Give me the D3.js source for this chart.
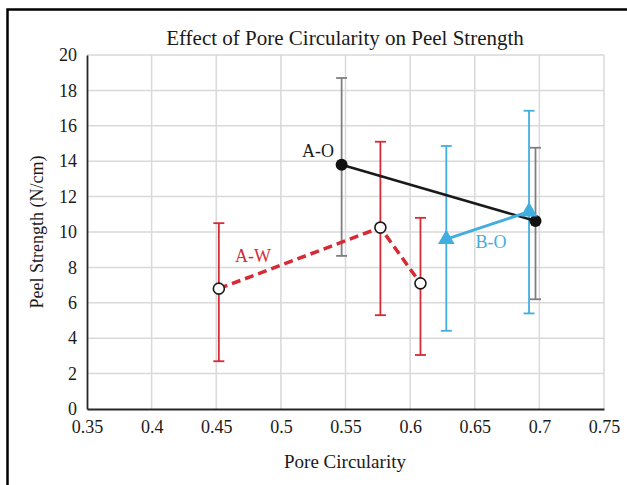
<!DOCTYPE html>
<html>
<head>
<meta charset="utf-8">
<script src="https://cdn.jsdelivr.net/npm/d3@7"></script>
<style>
body { margin:0; background:#fff; }
svg text { font-family:"Liberation Serif","Times New Roman",serif; }
</style>
</head>
<body>
<svg id="chart"></svg>
<script>
// series: [x, y, errLow, errHigh]
var seriesAW = [[0.452, 6.8, 2.7, 10.5], [0.577, 10.25, 5.3, 15.1], [0.608, 7.1, 3.05, 10.8]];
var seriesAO = [[0.547, 13.8, 8.65, 18.7], [0.697, 10.62, 6.2, 14.76]];
var seriesBO = [[0.628, 9.6, 4.42, 14.86], [0.692, 11.15, 5.4, 16.85]];
var xTicks = [0.35, 0.4, 0.45, 0.5, 0.55, 0.6, 0.65, 0.7, 0.75];
var yTicks = [0, 2, 4, 6, 8, 10, 12, 14, 16, 18, 20];

var size = {width:627, height:485};
var margins = {left:87, right:23, top:55, bottom:76};
var serif = "'Liberation Serif', 'Times New Roman', serif";

var svg = d3.select("#chart")
    .attr("width", size.width)
    .attr("height", size.height);

// outer frame (right and bottom edges run off the picture)
svg.append("path")
    .attr("d", "M7.5,490 V9.5 H640")
    .attr("fill", "none")
    .attr("stroke", "#000")
    .attr("stroke-width", 2.5);

var x = d3.scaleLinear().domain([0.35, 0.75]).range([margins.left, size.width - margins.right]);
var y = d3.scaleLinear().domain([0, 20]).range([size.height - margins.bottom, margins.top]);

// gridlines
svg.append("g").selectAll("line").data(yTicks.slice(1)).enter().append("line")
    .attr("x1", x(0.35)).attr("x2", x(0.75))
    .attr("y1", function(d){ return y(d); }).attr("y2", function(d){ return y(d); })
    .attr("stroke", "#d9d9d9").attr("stroke-width", 1.5);
svg.append("g").selectAll("line").data(xTicks.slice(1)).enter().append("line")
    .attr("x1", function(d){ return x(d); }).attr("x2", function(d){ return x(d); })
    .attr("y1", y(0)).attr("y2", y(20))
    .attr("stroke", "#d9d9d9").attr("stroke-width", 1.5);

// axes
var xAxis = svg.append("g")
    .attr("transform", "translate(0," + y(0) + ")")
    .call(d3.axisBottom(x).tickValues(xTicks).tickSize(0).tickPadding(11).tickFormat(d3.format("")));
var yAxis = svg.append("g")
    .attr("transform", "translate(" + x(0.35) + ",0)")
    .call(d3.axisLeft(y).tickValues(yTicks).tickSize(0).tickPadding(10));
[xAxis, yAxis].forEach(function(a){
    a.attr("font-family", serif).attr("font-size", 18);
    a.select(".domain").attr("stroke", "#262626").attr("stroke-width", 1.8);
    a.selectAll("text")
        .attr("fill", "#1a1a1a")
        .style("font-family", serif)
        .style("font-size", "18px");
});

// titles
svg.append("text").attr("x", 345).attr("y", 45).attr("text-anchor", "middle")
    .style("font-size", "21px").attr("fill", "#1a1a1a").text("Effect of Pore Circularity on Peel Strength");
svg.append("text").attr("x", 345).attr("y", 468).attr("text-anchor", "middle")
    .style("font-size", "19px").attr("fill", "#1a1a1a").text("Pore Circularity");
svg.append("text").attr("transform", "translate(43," + y(10) + ") rotate(-90)").attr("text-anchor", "middle")
    .style("font-size", "18px").attr("fill", "#1a1a1a").text("Peel Strength (N/cm)");

var line = d3.line().x(function(d){ return x(d[0]); }).y(function(d){ return y(d[1]); });

var errorBars = function(data, color)
{
    var g = svg.append("g").attr("stroke", color).attr("stroke-width", 1.8);
    data.forEach(function(d)
    {
        g.append("line").attr("x1", x(d[0])).attr("x2", x(d[0])).attr("y1", y(d[2])).attr("y2", y(d[3]));
        [d[2], d[3]].forEach(function(v)
        {
            g.append("line").attr("x1", x(d[0]) - 5.5).attr("x2", x(d[0]) + 5.5).attr("y1", y(v)).attr("y2", y(v));
        });
    });
}

errorBars(seriesAO, "#7f7f7f");
errorBars(seriesAW, "#d62b36");
errorBars(seriesBO, "#41aee0");

// A-W
svg.append("path").datum(seriesAW).attr("d", line).attr("fill", "none")
    .attr("stroke", "#d62b36").attr("stroke-width", 3.5).attr("stroke-dasharray", "9,5");
svg.append("g").selectAll("circle").data(seriesAW).enter().append("circle")
    .attr("cx", function(d){ return x(d[0]); }).attr("cy", function(d){ return y(d[1]); })
    .attr("r", 5.5).attr("fill", "#fff").attr("stroke", "#1a1a1a").attr("stroke-width", 1.6);

// A-O
svg.append("path").datum(seriesAO).attr("d", line).attr("fill", "none")
    .attr("stroke", "#1a1a1a").attr("stroke-width", 2.5);
svg.append("g").selectAll("circle").data(seriesAO).enter().append("circle")
    .attr("cx", function(d){ return x(d[0]); }).attr("cy", function(d){ return y(d[1]); })
    .attr("r", 6).attr("fill", "#111");

// B-O
svg.append("path").datum(seriesBO).attr("d", line).attr("fill", "none")
    .attr("stroke", "#41aee0").attr("stroke-width", 3);
svg.append("g").selectAll("path").data(seriesBO).enter().append("path")
    .attr("d", d3.symbol().type(d3.symbolTriangle).size(120))
    .attr("transform", function(d){ return "translate(" + x(d[0]) + "," + y(d[1]) + ")"; })
    .attr("fill", "#41aee0");

// series labels
svg.append("text").attr("x", 318).attr("y", 157).attr("text-anchor", "middle")
    .style("font-size", "18px").attr("fill", "#1a1a1a").text("A-O");
svg.append("text").attr("x", 253).attr("y", 262).attr("text-anchor", "middle")
    .style("font-size", "18px").attr("fill", "#d62b36").text("A-W");
svg.append("text").attr("x", 491).attr("y", 248).attr("text-anchor", "middle")
    .style("font-size", "18px").attr("fill", "#41aee0").text("B-O");
</script>
</body>
</html>
